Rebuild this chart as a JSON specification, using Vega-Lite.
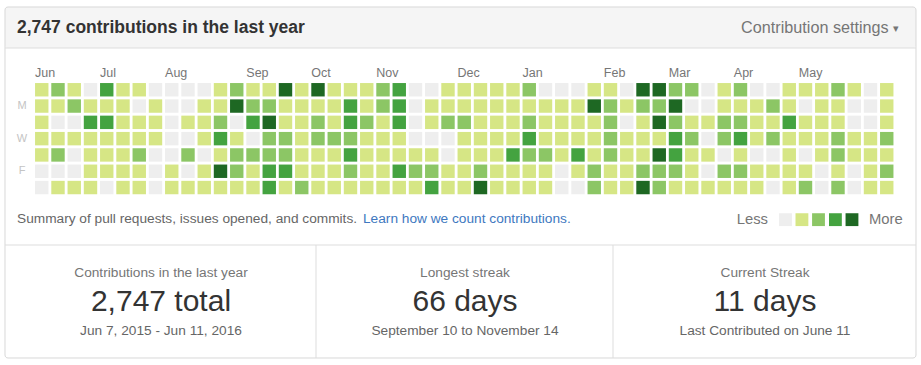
{
"$schema": "https://vega.github.io/schema/vega-lite/v6.json",
"width": 921, "height": 365, "autosize": "none", "padding": 0,
"background": "#ffffff",
"config": {"view": {"stroke": null}, "font": "Liberation Sans", "text": {"font": "Liberation Sans"}},
"datasets": {
"cells": [
{"week":0,"day":0,"c":1},{"week":0,"day":1,"c":1},{"week":0,"day":2,"c":1},{"week":0,"day":3,"c":1},{"week":0,"day":4,"c":1},{"week":0,"day":5,"c":0},{"week":0,"day":6,"c":0},
{"week":1,"day":0,"c":2},{"week":1,"day":1,"c":1},{"week":1,"day":2,"c":0},{"week":1,"day":3,"c":1},{"week":1,"day":4,"c":2},{"week":1,"day":5,"c":0},{"week":1,"day":6,"c":1},
{"week":2,"day":0,"c":1},{"week":2,"day":1,"c":2},{"week":2,"day":2,"c":0},{"week":2,"day":3,"c":1},{"week":2,"day":4,"c":0},{"week":2,"day":5,"c":0},{"week":2,"day":6,"c":1},
{"week":3,"day":0,"c":0},{"week":3,"day":1,"c":1},{"week":3,"day":2,"c":3},{"week":3,"day":3,"c":1},{"week":3,"day":4,"c":1},{"week":3,"day":5,"c":1},{"week":3,"day":6,"c":1},
{"week":4,"day":0,"c":3},{"week":4,"day":1,"c":1},{"week":4,"day":2,"c":3},{"week":4,"day":3,"c":1},{"week":4,"day":4,"c":1},{"week":4,"day":5,"c":1},{"week":4,"day":6,"c":0},
{"week":5,"day":0,"c":1},{"week":5,"day":1,"c":1},{"week":5,"day":2,"c":1},{"week":5,"day":3,"c":1},{"week":5,"day":4,"c":1},{"week":5,"day":5,"c":1},{"week":5,"day":6,"c":1},
{"week":6,"day":0,"c":1},{"week":6,"day":1,"c":0},{"week":6,"day":2,"c":1},{"week":6,"day":3,"c":1},{"week":6,"day":4,"c":2},{"week":6,"day":5,"c":1},{"week":6,"day":6,"c":1},
{"week":7,"day":0,"c":0},{"week":7,"day":1,"c":1},{"week":7,"day":2,"c":1},{"week":7,"day":3,"c":1},{"week":7,"day":4,"c":0},{"week":7,"day":5,"c":0},{"week":7,"day":6,"c":0},
{"week":8,"day":0,"c":0},{"week":8,"day":1,"c":0},{"week":8,"day":2,"c":0},{"week":8,"day":3,"c":0},{"week":8,"day":4,"c":0},{"week":8,"day":5,"c":1},{"week":8,"day":6,"c":1},
{"week":9,"day":0,"c":0},{"week":9,"day":1,"c":0},{"week":9,"day":2,"c":1},{"week":9,"day":3,"c":0},{"week":9,"day":4,"c":2},{"week":9,"day":5,"c":0},{"week":9,"day":6,"c":1},
{"week":10,"day":0,"c":0},{"week":10,"day":1,"c":1},{"week":10,"day":2,"c":1},{"week":10,"day":3,"c":1},{"week":10,"day":4,"c":0},{"week":10,"day":5,"c":1},{"week":10,"day":6,"c":1},
{"week":11,"day":0,"c":1},{"week":11,"day":1,"c":1},{"week":11,"day":2,"c":2},{"week":11,"day":3,"c":3},{"week":11,"day":4,"c":1},{"week":11,"day":5,"c":4},{"week":11,"day":6,"c":1},
{"week":12,"day":0,"c":2},{"week":12,"day":1,"c":4},{"week":12,"day":2,"c":0},{"week":12,"day":3,"c":1},{"week":12,"day":4,"c":2},{"week":12,"day":5,"c":2},{"week":12,"day":6,"c":1},
{"week":13,"day":0,"c":1},{"week":13,"day":1,"c":2},{"week":13,"day":2,"c":3},{"week":13,"day":3,"c":0},{"week":13,"day":4,"c":2},{"week":13,"day":5,"c":1},{"week":13,"day":6,"c":1},
{"week":14,"day":0,"c":1},{"week":14,"day":1,"c":2},{"week":14,"day":2,"c":4},{"week":14,"day":3,"c":2},{"week":14,"day":4,"c":2},{"week":14,"day":5,"c":3},{"week":14,"day":6,"c":3},
{"week":15,"day":0,"c":4},{"week":15,"day":1,"c":1},{"week":15,"day":2,"c":1},{"week":15,"day":3,"c":2},{"week":15,"day":4,"c":2},{"week":15,"day":5,"c":3},{"week":15,"day":6,"c":1},
{"week":16,"day":0,"c":1},{"week":16,"day":1,"c":1},{"week":16,"day":2,"c":1},{"week":16,"day":3,"c":1},{"week":16,"day":4,"c":1},{"week":16,"day":5,"c":1},{"week":16,"day":6,"c":2},
{"week":17,"day":0,"c":4},{"week":17,"day":1,"c":1},{"week":17,"day":2,"c":2},{"week":17,"day":3,"c":2},{"week":17,"day":4,"c":1},{"week":17,"day":5,"c":1},{"week":17,"day":6,"c":1},
{"week":18,"day":0,"c":1},{"week":18,"day":1,"c":1},{"week":18,"day":2,"c":1},{"week":18,"day":3,"c":2},{"week":18,"day":4,"c":1},{"week":18,"day":5,"c":1},{"week":18,"day":6,"c":1},
{"week":19,"day":0,"c":1},{"week":19,"day":1,"c":3},{"week":19,"day":2,"c":3},{"week":19,"day":3,"c":2},{"week":19,"day":4,"c":3},{"week":19,"day":5,"c":2},{"week":19,"day":6,"c":1},
{"week":20,"day":0,"c":1},{"week":20,"day":1,"c":1},{"week":20,"day":2,"c":2},{"week":20,"day":3,"c":1},{"week":20,"day":4,"c":1},{"week":20,"day":5,"c":1},{"week":20,"day":6,"c":1},
{"week":21,"day":0,"c":2},{"week":21,"day":1,"c":2},{"week":21,"day":2,"c":1},{"week":21,"day":3,"c":1},{"week":21,"day":4,"c":1},{"week":21,"day":5,"c":1},{"week":21,"day":6,"c":1},
{"week":22,"day":0,"c":3},{"week":22,"day":1,"c":3},{"week":22,"day":2,"c":3},{"week":22,"day":3,"c":1},{"week":22,"day":4,"c":1},{"week":22,"day":5,"c":3},{"week":22,"day":6,"c":1},
{"week":23,"day":0,"c":0},{"week":23,"day":1,"c":0},{"week":23,"day":2,"c":0},{"week":23,"day":3,"c":0},{"week":23,"day":4,"c":1},{"week":23,"day":5,"c":2},{"week":23,"day":6,"c":1},
{"week":24,"day":0,"c":0},{"week":24,"day":1,"c":1},{"week":24,"day":2,"c":1},{"week":24,"day":3,"c":0},{"week":24,"day":4,"c":1},{"week":24,"day":5,"c":2},{"week":24,"day":6,"c":3},
{"week":25,"day":0,"c":1},{"week":25,"day":1,"c":1},{"week":25,"day":2,"c":2},{"week":25,"day":3,"c":0},{"week":25,"day":4,"c":0},{"week":25,"day":5,"c":1},{"week":25,"day":6,"c":1},
{"week":26,"day":0,"c":1},{"week":26,"day":1,"c":1},{"week":26,"day":2,"c":2},{"week":26,"day":3,"c":1},{"week":26,"day":4,"c":1},{"week":26,"day":5,"c":1},{"week":26,"day":6,"c":1},
{"week":27,"day":0,"c":1},{"week":27,"day":1,"c":1},{"week":27,"day":2,"c":1},{"week":27,"day":3,"c":1},{"week":27,"day":4,"c":1},{"week":27,"day":5,"c":2},{"week":27,"day":6,"c":4},
{"week":28,"day":0,"c":1},{"week":28,"day":1,"c":1},{"week":28,"day":2,"c":1},{"week":28,"day":3,"c":1},{"week":28,"day":4,"c":1},{"week":28,"day":5,"c":1},{"week":28,"day":6,"c":1},
{"week":29,"day":0,"c":1},{"week":29,"day":1,"c":1},{"week":29,"day":2,"c":1},{"week":29,"day":3,"c":1},{"week":29,"day":4,"c":3},{"week":29,"day":5,"c":1},{"week":29,"day":6,"c":1},
{"week":30,"day":0,"c":2},{"week":30,"day":1,"c":1},{"week":30,"day":2,"c":2},{"week":30,"day":3,"c":3},{"week":30,"day":4,"c":2},{"week":30,"day":5,"c":1},{"week":30,"day":6,"c":1},
{"week":31,"day":0,"c":0},{"week":31,"day":1,"c":1},{"week":31,"day":2,"c":1},{"week":31,"day":3,"c":1},{"week":31,"day":4,"c":2},{"week":31,"day":5,"c":1},{"week":31,"day":6,"c":1},
{"week":32,"day":0,"c":0},{"week":32,"day":1,"c":1},{"week":32,"day":2,"c":1},{"week":32,"day":3,"c":1},{"week":32,"day":4,"c":1},{"week":32,"day":5,"c":0},{"week":32,"day":6,"c":0},
{"week":33,"day":0,"c":0},{"week":33,"day":1,"c":1},{"week":33,"day":2,"c":1},{"week":33,"day":3,"c":1},{"week":33,"day":4,"c":3},{"week":33,"day":5,"c":1},{"week":33,"day":6,"c":0},
{"week":34,"day":0,"c":1},{"week":34,"day":1,"c":4},{"week":34,"day":2,"c":1},{"week":34,"day":3,"c":1},{"week":34,"day":4,"c":1},{"week":34,"day":5,"c":2},{"week":34,"day":6,"c":2},
{"week":35,"day":0,"c":1},{"week":35,"day":1,"c":2},{"week":35,"day":2,"c":2},{"week":35,"day":3,"c":2},{"week":35,"day":4,"c":2},{"week":35,"day":5,"c":1},{"week":35,"day":6,"c":1},
{"week":36,"day":0,"c":0},{"week":36,"day":1,"c":1},{"week":36,"day":2,"c":0},{"week":36,"day":3,"c":1},{"week":36,"day":4,"c":1},{"week":36,"day":5,"c":1},{"week":36,"day":6,"c":1},
{"week":37,"day":0,"c":4},{"week":37,"day":1,"c":2},{"week":37,"day":2,"c":1},{"week":37,"day":3,"c":1},{"week":37,"day":4,"c":1},{"week":37,"day":5,"c":2},{"week":37,"day":6,"c":4},
{"week":38,"day":0,"c":4},{"week":38,"day":1,"c":2},{"week":38,"day":2,"c":4},{"week":38,"day":3,"c":1},{"week":38,"day":4,"c":4},{"week":38,"day":5,"c":2},{"week":38,"day":6,"c":2},
{"week":39,"day":0,"c":2},{"week":39,"day":1,"c":4},{"week":39,"day":2,"c":2},{"week":39,"day":3,"c":3},{"week":39,"day":4,"c":3},{"week":39,"day":5,"c":2},{"week":39,"day":6,"c":1},
{"week":40,"day":0,"c":2},{"week":40,"day":1,"c":0},{"week":40,"day":2,"c":1},{"week":40,"day":3,"c":2},{"week":40,"day":4,"c":1},{"week":40,"day":5,"c":1},{"week":40,"day":6,"c":1},
{"week":41,"day":0,"c":0},{"week":41,"day":1,"c":0},{"week":41,"day":2,"c":1},{"week":41,"day":3,"c":0},{"week":41,"day":4,"c":1},{"week":41,"day":5,"c":0},{"week":41,"day":6,"c":1},
{"week":42,"day":0,"c":1},{"week":42,"day":1,"c":1},{"week":42,"day":2,"c":2},{"week":42,"day":3,"c":2},{"week":42,"day":4,"c":0},{"week":42,"day":5,"c":2},{"week":42,"day":6,"c":1},
{"week":43,"day":0,"c":2},{"week":43,"day":1,"c":1},{"week":43,"day":2,"c":2},{"week":43,"day":3,"c":3},{"week":43,"day":4,"c":1},{"week":43,"day":5,"c":2},{"week":43,"day":6,"c":1},
{"week":44,"day":0,"c":0},{"week":44,"day":1,"c":1},{"week":44,"day":2,"c":1},{"week":44,"day":3,"c":1},{"week":44,"day":4,"c":0},{"week":44,"day":5,"c":1},{"week":44,"day":6,"c":1},
{"week":45,"day":0,"c":0},{"week":45,"day":1,"c":2},{"week":45,"day":2,"c":1},{"week":45,"day":3,"c":2},{"week":45,"day":4,"c":0},{"week":45,"day":5,"c":1},{"week":45,"day":6,"c":0},
{"week":46,"day":0,"c":1},{"week":46,"day":1,"c":1},{"week":46,"day":2,"c":3},{"week":46,"day":3,"c":1},{"week":46,"day":4,"c":1},{"week":46,"day":5,"c":1},{"week":46,"day":6,"c":1},
{"week":47,"day":0,"c":1},{"week":47,"day":1,"c":0},{"week":47,"day":2,"c":1},{"week":47,"day":3,"c":1},{"week":47,"day":4,"c":0},{"week":47,"day":5,"c":1},{"week":47,"day":6,"c":2},
{"week":48,"day":0,"c":1},{"week":48,"day":1,"c":1},{"week":48,"day":2,"c":1},{"week":48,"day":3,"c":1},{"week":48,"day":4,"c":1},{"week":48,"day":5,"c":0},{"week":48,"day":6,"c":0},
{"week":49,"day":0,"c":2},{"week":49,"day":1,"c":1},{"week":49,"day":2,"c":1},{"week":49,"day":3,"c":2},{"week":49,"day":4,"c":2},{"week":49,"day":5,"c":1},{"week":49,"day":6,"c":2},
{"week":50,"day":0,"c":1},{"week":50,"day":1,"c":0},{"week":50,"day":2,"c":0},{"week":50,"day":3,"c":1},{"week":50,"day":4,"c":1},{"week":50,"day":5,"c":0},{"week":50,"day":6,"c":0},
{"week":51,"day":0,"c":0},{"week":51,"day":1,"c":0},{"week":51,"day":2,"c":0},{"week":51,"day":3,"c":1},{"week":51,"day":4,"c":1},{"week":51,"day":5,"c":1},{"week":51,"day":6,"c":1},
{"week":52,"day":0,"c":1},{"week":52,"day":1,"c":1},{"week":52,"day":2,"c":1},{"week":52,"day":3,"c":2},{"week":52,"day":4,"c":1},{"week":52,"day":5,"c":2},{"week":52,"day":6,"c":1}
],
"months": [
{"m":"Jun","week":0},{"m":"Jul","week":4},{"m":"Aug","week":8},{"m":"Sep","week":13},{"m":"Oct","week":17},{"m":"Nov","week":21},
{"m":"Dec","week":26},{"m":"Jan","week":30},{"m":"Feb","week":35},{"m":"Mar","week":39},{"m":"Apr","week":43},{"m":"May","week":47}
],
"days": [{"t":"M","day":1},{"t":"W","day":3},{"t":"F","day":5}],
"legend": [{"gx":45.77,"c":0},{"gx":46.78,"c":1},{"gx":47.8,"c":2},{"gx":48.84,"c":3},{"gx":49.86,"c":4}],
"frame": [{"gx":-2.262,"gx2":53.8,"gy":-5.077,"gy2":16.457}],
"header": [{"gx":-2.262,"gx2":53.8,"gy":-5.077,"gy2":-2.561}],
"lines": [
{"gx":-2.262,"gx2":53.8,"gy":-2.561,"gy2":-2.561},
{"gx":-2.262,"gx2":53.8,"gy":9.525,"gy2":9.525},
{"gx":16.877,"gx2":16.877,"gy":9.525,"gy2":16.457},
{"gx":35.154,"gx2":35.154,"gy":9.525,"gy2":16.457}
],
"leftText": [
{"t":"Summary of pull requests, issues opened, and commits.","gx":-1.523,"gy":7.93,"s":13.7,"col":"#666666"},
{"t":"Learn how we count contributions.","gx":19.769,"gy":7.93,"s":13.7,"col":"#4078c0"},
{"t":"More","gx":50.908,"gy":7.99,"s":14.8,"col":"#767676"},
{"t":"▾","gx":52.37,"gy":-3.74,"s":11,"col":"#767676"}
],
"rightText": [
{"t":"Contribution settings","gx":52.12,"gy":-3.788,"s":16.2,"col":"#767676"},
{"t":"Less","gx":44.692,"gy":7.99,"s":14.8,"col":"#767676"}
],
"title": [{"t":"2,747 contributions in the last year","gx":-1.523,"gy":-3.788}],
"stats": [
{"t":"Contributions in the last year","gx":7.338,"gy":11.242,"s":13.7,"col":"#767676"},
{"t":"2,747 total","gx":7.338,"gy":12.991,"s":30,"col":"#333333"},
{"t":"Jun 7, 2015 - Jun 11, 2016","gx":7.338,"gy":14.801,"s":13.7,"col":"#666666"},
{"t":"Longest streak","gx":26.046,"gy":11.242,"s":13.7,"col":"#767676"},
{"t":"66 days","gx":26.046,"gy":12.991,"s":30,"col":"#333333"},
{"t":"September 10 to November 14","gx":26.046,"gy":14.801,"s":13.7,"col":"#666666"},
{"t":"Current Streak","gx":44.508,"gy":11.242,"s":13.7,"col":"#767676"},
{"t":"11 days","gx":44.508,"gy":12.991,"s":30,"col":"#333333"},
{"t":"Last Contributed on June 11","gx":44.508,"gy":14.801,"s":13.7,"col":"#666666"}
]
},
"layer": [
{"data": {"name": "header"}, "mark": {"type": "rect", "fill": "#f5f5f5", "cornerRadius": 3},
 "encoding": {
  "x": {"field": "gx", "type": "quantitative", "scale": {"domain": [-2.5692, 54.1077], "nice": false, "zero": false}, "axis": null},
  "x2": {"field": "gx2"},
  "y": {"field": "gy", "type": "quantitative", "scale": {"domain": [-5.5061, 16.8865], "nice": false, "zero": false, "reverse": true}, "axis": null},
  "y2": {"field": "gy2"}}},
{"data": {"name": "frame"}, "mark": {"type": "rect", "fill": "transparent", "stroke": "#d8d8d8", "strokeWidth": 1, "cornerRadius": 3},
 "encoding": {
  "x": {"field": "gx", "type": "quantitative", "scale": {"domain": [-2.5692, 54.1077], "nice": false, "zero": false}, "axis": null},
  "x2": {"field": "gx2"},
  "y": {"field": "gy", "type": "quantitative", "scale": {"domain": [-5.5061, 16.8865], "nice": false, "zero": false, "reverse": true}, "axis": null},
  "y2": {"field": "gy2"}}},
{"data": {"name": "lines"}, "mark": {"type": "rule", "stroke": "#dddddd", "strokeWidth": 1},
 "encoding": {
  "x": {"field": "gx", "type": "quantitative", "scale": {"domain": [-2.5692, 54.1077], "nice": false, "zero": false}, "axis": null},
  "x2": {"field": "gx2"},
  "y": {"field": "gy", "type": "quantitative", "scale": {"domain": [-5.5061, 16.8865], "nice": false, "zero": false, "reverse": true}, "axis": null},
  "y2": {"field": "gy2"}}},
{"data": {"name": "cells"}, "mark": {"type": "square", "size": 180, "opacity": 1, "strokeWidth": 0},
 "encoding": {
  "x": {"field": "week", "type": "quantitative", "scale": {"domain": [-2.5692, 54.1077], "nice": false, "zero": false}, "axis": null},
  "y": {"field": "day", "type": "quantitative", "scale": {"domain": [-5.5061, 16.8865], "nice": false, "zero": false, "reverse": true}, "axis": null},
  "fill": {"field": "c", "type": "ordinal", "scale": {"domain": [0, 1, 2, 3, 4], "range": ["#eeeeee", "#d6e685", "#8cc665", "#44a340", "#1e6823"]}, "legend": null}}},
{"data": {"name": "legend"}, "mark": {"type": "square", "size": 165, "opacity": 1, "strokeWidth": 0},
 "encoding": {
  "x": {"field": "gx", "type": "quantitative", "scale": {"domain": [-2.5692, 54.1077], "nice": false, "zero": false}, "axis": null},
  "y": {"datum": 7.97, "type": "quantitative", "scale": {"domain": [-5.5061, 16.8865], "nice": false, "zero": false, "reverse": true}, "axis": null},
  "fill": {"field": "c", "type": "ordinal", "scale": {"domain": [0, 1, 2, 3, 4], "range": ["#eeeeee", "#d6e685", "#8cc665", "#44a340", "#1e6823"]}, "legend": null}}},
{"data": {"name": "months"}, "mark": {"type": "text", "align": "left", "baseline": "middle", "dx": -6.7, "fontSize": 12.5, "fill": "#767676"},
 "encoding": {
  "x": {"field": "week", "type": "quantitative", "scale": {"domain": [-2.5692, 54.1077], "nice": false, "zero": false}, "axis": null},
  "y": {"datum": -1.058, "type": "quantitative", "scale": {"domain": [-5.5061, 16.8865], "nice": false, "zero": false, "reverse": true}, "axis": null},
  "text": {"field": "m"}}},
{"data": {"name": "days"}, "mark": {"type": "text", "align": "center", "baseline": "middle", "fontSize": 11, "fill": "#c4c4c4"},
 "encoding": {
  "x": {"datum": -1.215, "type": "quantitative", "scale": {"domain": [-2.5692, 54.1077], "nice": false, "zero": false}, "axis": null},
  "y": {"field": "day", "type": "quantitative", "scale": {"domain": [-5.5061, 16.8865], "nice": false, "zero": false, "reverse": true}, "axis": null},
  "text": {"field": "t"}}},
{"data": {"name": "leftText"}, "mark": {"type": "text", "align": "left", "baseline": "middle"},
 "encoding": {
  "x": {"field": "gx", "type": "quantitative", "scale": {"domain": [-2.5692, 54.1077], "nice": false, "zero": false}, "axis": null},
  "y": {"field": "gy", "type": "quantitative", "scale": {"domain": [-5.5061, 16.8865], "nice": false, "zero": false, "reverse": true}, "axis": null},
  "text": {"field": "t"},
  "size": {"field": "s", "type": "quantitative", "scale": null},
  "color": {"field": "col", "type": "nominal", "scale": null}}},
{"data": {"name": "rightText"}, "mark": {"type": "text", "align": "right", "baseline": "middle"},
 "encoding": {
  "x": {"field": "gx", "type": "quantitative", "scale": {"domain": [-2.5692, 54.1077], "nice": false, "zero": false}, "axis": null},
  "y": {"field": "gy", "type": "quantitative", "scale": {"domain": [-5.5061, 16.8865], "nice": false, "zero": false, "reverse": true}, "axis": null},
  "text": {"field": "t"},
  "size": {"field": "s", "type": "quantitative", "scale": null},
  "color": {"field": "col", "type": "nominal", "scale": null}}},
{"data": {"name": "title"}, "mark": {"type": "text", "align": "left", "baseline": "middle", "fontSize": 17.5, "fontWeight": "bold", "fill": "#333333"},
 "encoding": {
  "x": {"field": "gx", "type": "quantitative", "scale": {"domain": [-2.5692, 54.1077], "nice": false, "zero": false}, "axis": null},
  "y": {"field": "gy", "type": "quantitative", "scale": {"domain": [-5.5061, 16.8865], "nice": false, "zero": false, "reverse": true}, "axis": null},
  "text": {"field": "t"}}},
{"data": {"name": "stats"}, "mark": {"type": "text", "align": "center", "baseline": "middle"},
 "encoding": {
  "x": {"field": "gx", "type": "quantitative", "scale": {"domain": [-2.5692, 54.1077], "nice": false, "zero": false}, "axis": null},
  "y": {"field": "gy", "type": "quantitative", "scale": {"domain": [-5.5061, 16.8865], "nice": false, "zero": false, "reverse": true}, "axis": null},
  "text": {"field": "t"},
  "size": {"field": "s", "type": "quantitative", "scale": null},
  "color": {"field": "col", "type": "nominal", "scale": null}}}
]
}
